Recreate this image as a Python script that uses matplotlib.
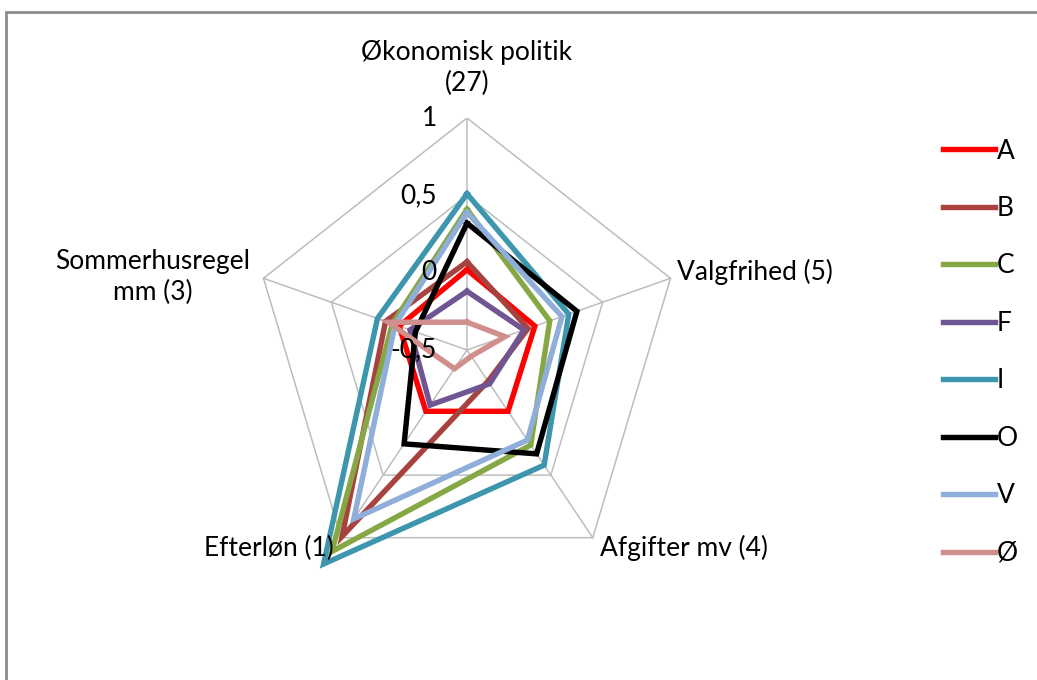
import numpy as np
import matplotlib.pyplot as plt
from matplotlib.patches import Rectangle

# Akser (med antal spørgsmål) og partiernes værdier
kategorier = ["Økonomisk politik\n(27)", "Valgfrihed (5)", "Afgifter mv (4)",
              "Efterløn (1)", "Sommerhusregel\nmm (3)"]
partier = ["A", "B", "C", "F", "I", "O", "V", "Ø"]
A = [0.02, 0.00, -0.01, -0.01, 0.00]
B = [0.07, -0.05, -0.25, 0.99, 0.10]
C = [0.41, 0.11, 0.26, 1.11, 0.05]
F = [-0.12, -0.08, -0.23, -0.06, -0.08]
I = [0.51, 0.25, 0.42, 1.21, 0.16]
O = [0.32, 0.31, 0.33, 0.25, -0.12]
V = [0.39, 0.20, 0.22, 0.85, 0.03]
OE = [-0.32, -0.22, -0.45, -0.35, 0.08]
serier = [A, B, C, F, I, O, V, OE]
farver = ["#FF0000", "#A8423F", "#86A844", "#6F5592", "#3D96AE", "#000000", "#8FAEDA", "#D08F8D"]
ticks = [-0.5, 0, 0.5, 1]
tick_tekst = ["-0,5", "0", "0,5", "1"]

r_min, r_max = -0.5, 1.0
plt.rcParams['font.family'] = ['Lato', 'DejaVu Sans']
fs = 19

fig = plt.figure(figsize=(10.37, 6.8), dpi=100)
W, H = 1037, 680
cx, cy, rx, ry = 467, 350, 214, 232
ax = fig.add_axes([(cx - rx) / W, (H - cy - ry) / H, 2 * rx / W, 2 * ry / H])
ax.set_xlim(-1, 1)
ax.set_ylim(-1, 1)
ax.axis('off')

n = len(kategorier)
vinkler = np.arange(n) * 2 * np.pi / n


def til_xy(vaerdier):
    r = (np.asarray(vaerdier) - r_min) / (r_max - r_min)
    r = np.append(r, r[0])
    v = np.append(vinkler, vinkler[0])
    return r * np.sin(v), r * np.cos(v)


# gitter
for t in ticks[1:]:
    x, y = til_xy([t] * n)
    ax.plot(x, y, color="#BDBDBD", lw=1.1, zorder=1)
for v in vinkler:
    ax.plot([0, np.sin(v)], [0, np.cos(v)], color="#BDBDBD", lw=1.1, zorder=1)

# serier
linjer = []
for navn, data, farve in zip(partier, serier, farver):
    x, y = til_xy(data)
    ln, = ax.plot(x, y, color=farve, lw=3.9, solid_joinstyle='miter', zorder=2, label=navn)
    linjer.append(ln)

# akse-værdier
for t, s in zip(ticks, tick_tekst):
    r = (t - r_min) / (r_max - r_min)
    ax.text(-30 / rx, r, s, ha='right', va='center', fontsize=fs, zorder=3)

# kategorinavne
ax.text(0, (cy - 68) / ry, kategorier[0], ha='center', va='center', fontsize=fs, linespacing=1.3)
ax.text((677 - cx) / rx, (cy - 272) / ry, kategorier[1], ha='left', va='center', fontsize=fs)
ax.text((600 - cx) / rx, (cy - 548) / ry, kategorier[2], ha='left', va='center', fontsize=fs)
ax.text((334 - cx) / rx, (cy - 548) / ry, kategorier[3], ha='right', va='center', fontsize=fs)
ax.text((153 - cx) / rx, (cy - 277) / ry, kategorier[4], ha='center', va='center', fontsize=fs, linespacing=1.3)

fig.legend(handles=linjer, loc='upper left', bbox_to_anchor=(932 / W, 1 - 128 / H),
           frameon=False, fontsize=fs, handlelength=2.0, handletextpad=0.05,
           labelspacing=1.23, borderaxespad=0)

# ramme
fig.add_artist(Rectangle((6 / W, -0.1), 1.2, (H - 12) / H + 0.1, transform=fig.transFigure,
                         fill=False, edgecolor="#8C8C8C", lw=2))

fig.savefig("out.png", dpi=100)
